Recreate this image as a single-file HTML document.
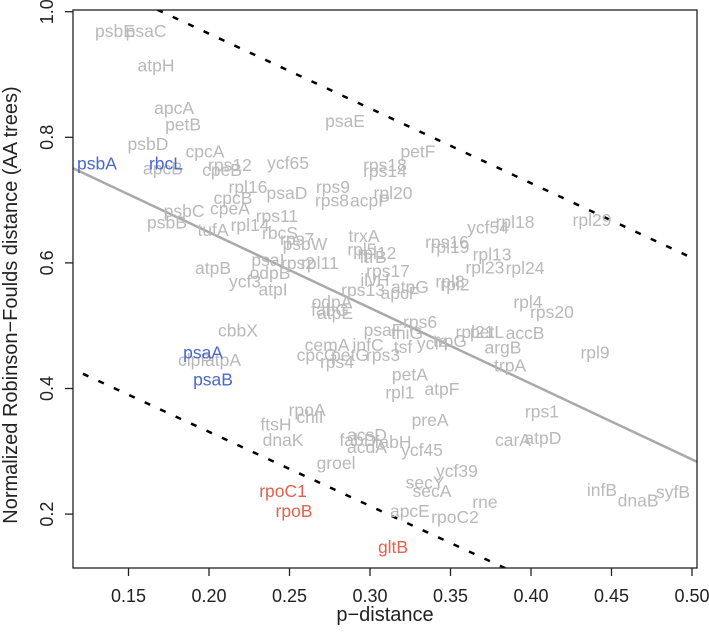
<!DOCTYPE html>
<html><head><meta charset="utf-8"><style>
html,body{margin:0;padding:0;background:#fff;}
svg{display:block;font-family:"Liberation Sans",Arial,sans-serif;}
</style></head><body>
<svg id="chart" width="709" height="635" viewBox="0 0 709 635" xmlns="http://www.w3.org/2000/svg">
<defs><clipPath id="plotclip"><rect x="73" y="10" width="624" height="558"/></clipPath></defs>
<g id="marks" clip-path="url(#plotclip)"></g>
<g id="labels"></g>
<rect x="73" y="10" width="624" height="558" fill="none" stroke="#222" stroke-width="1.3"/>
<g id="axes"></g>
<text x="385" y="621" text-anchor="middle" font-size="20" fill="#222">p−distance</text>
<text transform="translate(17,305) rotate(-90)" text-anchor="middle" font-size="20" fill="#222">Normalized Robinson−Foulds distance (AA trees)</text>
</svg>
<script>
const genes = ["psbE","psaC","atpH","apcA","petB","psbD","psbA","rbcL","apcB","psbC","psbB","cpcA","cpeB","rps12","ycf65","rpl16","psaD","rps9","rps8","acpP","rpl20","rps18","rps14","petF","psaE","cpcB","cpeA","rps11","tufA","rpl14","rbcS","rps7","psbW","psaI","rps2","rpl11","rpl5","rpl12","ftrB","trxA","atpB","odpB","ycf3","atpI","rps17","ilvH","rps13","atpG","apcF","odpA","fabG","atpE","ycf54","rpl18","rpl29","rps16","rpl19","rpl13","rpl23","rpl24","rpl8","rpl2","rpl4","rps20","cbbX","psaA","clpP","atpA","psaB","cemA","infC","psaF","thiG","rps6","cpcG","petG","rps3","rps4","tsf","ycf4","trpG","rpl21","petL","accB","argB","trpA","rpl9","petA","rpl1","atpF","rpoA","chlI","ftsH","dnaK","preA","rps1","carA","atpD","acsD","fabD","acdA","fabH","ycf45","groel","ycf39","secY","secA","rne","apcE","rpoC2","rpoC1","rpoB","gltB","infB","dnaB","syfB"];
const pDist = [0.1416,0.1609,0.1671,0.1783,0.1839,0.1621,0.1304,0.1733,0.1714,0.1845,0.1739,0.1975,0.2081,0.2130,0.2491,0.2242,0.2484,0.2770,0.2764,0.3000,0.3143,0.3093,0.3093,0.3298,0.2845,0.2149,0.2130,0.2422,0.2025,0.2255,0.2441,0.2547,0.2596,0.2366,0.2553,0.2689,0.2950,0.3043,0.3019,0.2963,0.2025,0.2379,0.2224,0.2398,0.3112,0.3031,0.2957,0.3248,0.3186,0.2764,0.2752,0.2783,0.3733,0.3901,0.4379,0.3478,0.3497,0.3758,0.3714,0.3963,0.3497,0.3528,0.3981,0.4130,0.2180,0.1963,0.1913,0.2087,0.2025,0.2733,0.2988,0.3081,0.3230,0.3311,0.2671,0.2876,0.3081,0.2795,0.3205,0.3391,0.3497,0.3652,0.3727,0.3963,0.3826,0.3870,0.4398,0.3248,0.3186,0.3447,0.2609,0.2627,0.2416,0.2460,0.3373,0.4068,0.3888,0.4074,0.2981,0.2925,0.2981,0.3143,0.3323,0.2789,0.3540,0.3342,0.3385,0.3714,0.3248,0.3528,0.2460,0.2528,0.3143,0.4441,0.4665,0.4882];
const rfDist = [0.969,0.969,0.914,0.847,0.820,0.789,0.758,0.758,0.750,0.683,0.664,0.777,0.748,0.756,0.759,0.721,0.711,0.721,0.699,0.699,0.711,0.756,0.746,0.777,0.826,0.703,0.687,0.675,0.652,0.660,0.648,0.638,0.630,0.605,0.600,0.600,0.621,0.616,0.609,0.643,0.592,0.584,0.570,0.558,0.587,0.573,0.557,0.562,0.552,0.538,0.525,0.520,0.656,0.665,0.668,0.633,0.625,0.613,0.593,0.592,0.570,0.566,0.538,0.522,0.492,0.457,0.445,0.445,0.414,0.469,0.469,0.493,0.488,0.506,0.453,0.453,0.453,0.442,0.466,0.472,0.476,0.490,0.490,0.488,0.465,0.437,0.457,0.422,0.394,0.399,0.366,0.355,0.343,0.318,0.350,0.363,0.318,0.321,0.326,0.318,0.307,0.315,0.302,0.281,0.269,0.250,0.237,0.219,0.205,0.195,0.237,0.205,0.148,0.238,0.222,0.235];
const blueGenes = ["psbA","rbcL","psaA","psaB"];
const redGenes = ["rpoC1","rpoB","gltB"];
const xTicks = [0.15,0.20,0.25,0.30,0.35,0.40,0.45,0.50];
const yTicks = [0.2,0.4,0.6,0.8,1.0];
const fitIntercept = 0.890, fitSlope = -1.206;
const upperIntercept = 1.203, upperSlope = -1.19;
const lowerIntercept = 0.567, lowerSlope = -1.18;

const NS="http://www.w3.org/2000/svg";
function X(p){return 128.5+(p-0.15)*1610;}
function Y(v){return 11.7+(1-v)*628;}
function mk(tag,attrs,parent){const e=document.createElementNS(NS,tag);for(const k in attrs)e.setAttribute(k,attrs[k]);parent.appendChild(e);return e;}
const marks=document.getElementById('marks'), labels=document.getElementById('labels'), axes=document.getElementById('axes');

const fit=mk('line',{x1:X(0.10),y1:Y(fitIntercept+fitSlope*0.10),x2:X(0.52),y2:Y(fitIntercept+fitSlope*0.52),stroke:'#a9a9a9','stroke-width':2.5},marks);


const up=mk('line',{x1:X(0.12),y1:Y(upperIntercept+upperSlope*0.12),x2:X(0.4994),y2:Y(upperIntercept+upperSlope*0.4994),stroke:'#000','stroke-width':2.5,'stroke-dasharray':'6,11'},marks);


const lo=mk('line',{x1:X(0.1217),y1:Y(lowerIntercept+lowerSlope*0.1217),x2:X(0.40),y2:Y(lowerIntercept+lowerSlope*0.40),stroke:'#000','stroke-width':2.5,'stroke-dasharray':'6,11'},marks);



genes.forEach((g,i)=>{
  let col='#b9b9b9';
  if(blueGenes.includes(g))col='#4a68cc';
  if(redGenes.includes(g))col='#e2624f';
  const t=mk('text',{x:X(pDist[i]),y:Y(rfDist[i])+6,'text-anchor':'middle','font-size':17.5,fill:col},labels);
  t.textContent=g;
  
  
});
Array.from(labels.children).forEach(t=>{if(t.getAttribute('fill')!=='#b9b9b9')labels.appendChild(t);});

xTicks.forEach(v=>{
  const l=mk('line',{x1:X(v),x2:X(v),y1:568,y2:576,stroke:'#222','stroke-width':1.3},axes);
  
  
  const t=mk('text',{x:X(v),y:602,'text-anchor':'middle','font-size':18,fill:'#222'},axes);
  t.textContent=v.toFixed(2);
  
  
});
yTicks.forEach(v=>{
  const l=mk('line',{x1:65,x2:73,y1:Y(v),y2:Y(v),stroke:'#222','stroke-width':1.3},axes);
  
  
  const t=mk('text',{transform:'translate(53,'+Y(v)+') rotate(-90)','text-anchor':'middle','font-size':18,fill:'#222'},axes);
  t.textContent=v.toFixed(1);
  
  
});
</script>
</body></html>
